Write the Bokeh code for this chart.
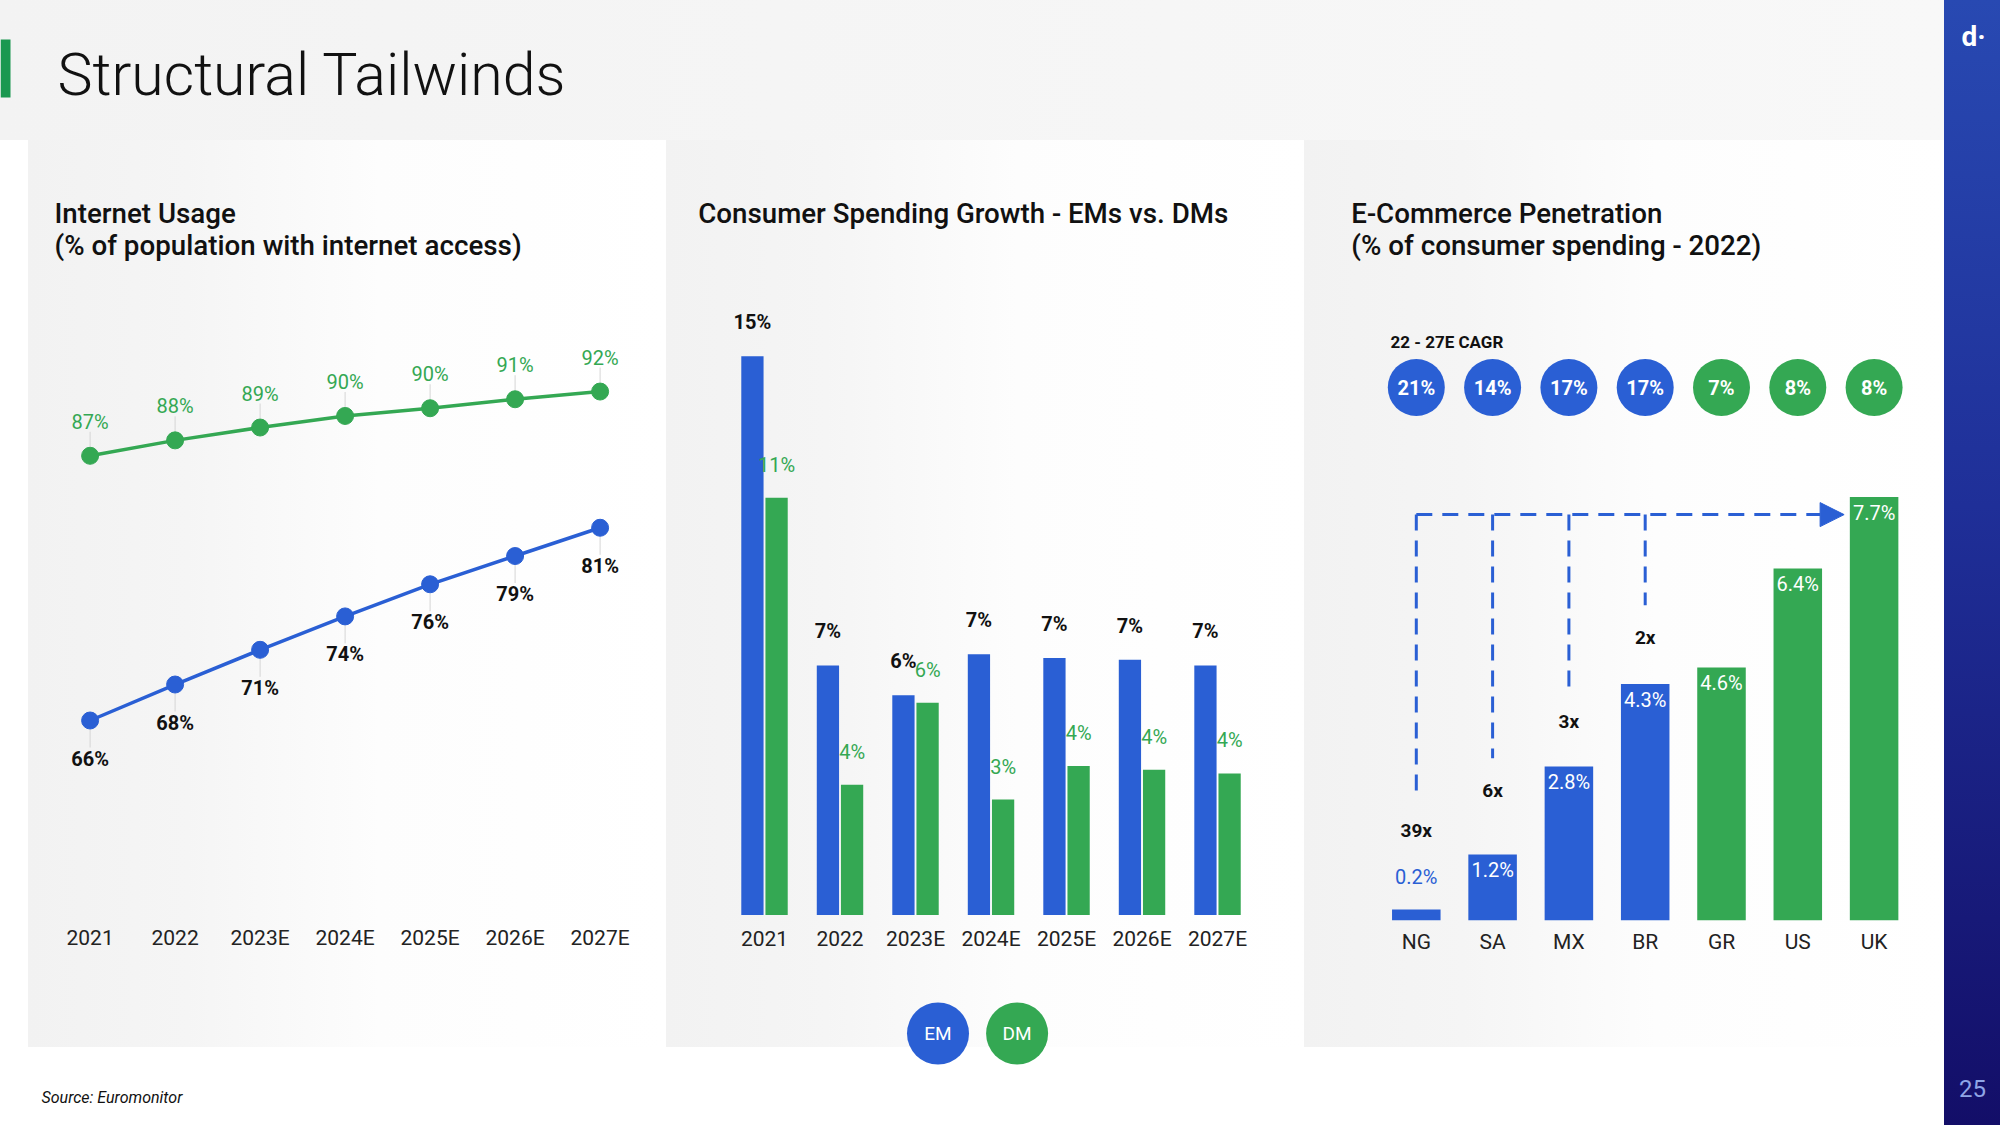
from bokeh.plotting import figure
from bokeh.layouts import row, column
from bokeh.models import (ColumnDataSource, Range1d, Arrow, NormalHead, FixedTicker)
from bokeh.core.properties import value
from bokeh.embed import file_html
from bokeh.resources import INLINE

# ---------------- data ----------------
years = ["2021", "2022", "2023E", "2024E", "2025E", "2026E", "2027E"]
internet_em = [66.0, 68.8, 71.5, 74.1, 76.6, 78.8, 81.0]
internet_dm = [86.6, 87.8, 88.8, 89.7, 90.3, 91.0, 91.6]
internet_em_labels = ["66%", "68%", "71%", "74%", "76%", "79%", "81%"]
internet_dm_labels = ["87%", "88%", "89%", "90%", "90%", "91%", "92%"]

spend_em = [15.0, 6.7, 5.9, 7.0, 6.9, 6.85, 6.7]
spend_dm = [11.2, 3.5, 5.7, 3.1, 4.0, 3.9, 3.8]
spend_em_labels = ["15%", "7%", "6%", "7%", "7%", "7%", "7%"]
spend_dm_labels = ["11%", "4%", "6%", "3%", "4%", "4%", "4%"]

countries = ["NG", "SA", "MX", "BR", "GR", "US", "UK"]
market_type = ["EM", "EM", "EM", "EM", "DM", "DM", "DM"]
ecom_pen = [0.2, 1.2, 2.8, 4.3, 4.6, 6.4, 7.7]
ecom_labels = ["0.2%", "1.2%", "2.8%", "4.3%", "4.6%", "6.4%", "7.7%"]
cagr_labels = ["21%", "14%", "17%", "17%", "7%", "8%", "8%"]
multiples = ["39x", "6x", "3x", "2x"]
legend_names = ["EM", "DM"]

# ---------------- style ----------------
BLUE = "#2a5fd4"
GREEN = "#34a853"
DARK = "#111111"
FONT = "Roboto"
HEAD_FONT = "Roboto Medium"
HEAD_SIZE = 27.7
GRAD = "linear-gradient(90deg, #f2f2f2 0%, #f5f5f5 25%, #fdfdfd 55%, #ffffff 100%)"
CH = 855          # chart figure height (page y 140..995)
FB = 920          # frame bottom (page y), shared by the three charts
MBB = 995 - FB


def panel_css(x0, w, h):
    return {"background-image": GRAD, "background-repeat": "no-repeat",
            "background-position": f"{x0}px 0px", "background-size": f"{w}px {h}px"}


def mkfig(w, h, xr, yr, mbb=0, xaxis=True, styles=None):
    p = figure(width=w, height=h, x_range=xr, y_range=yr, output_backend="svg",
               toolbar_location=None, title=None,
               x_axis_location="below" if xaxis else None, y_axis_location=None,
               min_border_left=0, min_border_right=0, min_border_top=0,
               min_border_bottom=mbb)
    p.background_fill_color = None
    p.border_fill_color = None
    p.outline_line_color = None
    p.grid.visible = False
    if xaxis:
        ax = p.xaxis[0]
        ax.axis_line_color = None
        ax.major_tick_line_color = None
        ax.minor_tick_line_color = None
        ax.major_tick_in = 0
        ax.major_tick_out = 0
        ax.major_label_text_font = FONT
        ax.major_label_text_font_size = "21px"
        ax.major_label_text_color = "#222222"
    if styles:
        p.styles = styles
    return p


def mapper(fx0, fx1, fy0, fy1, xr, yr):
    """page-pixel position -> data coordinates of a frame"""
    def f(px, py):
        x = xr[0] + (px - fx0) * (xr[1] - xr[0]) / (fx1 - fx0)
        y = yr[0] + (fy1 - py) * (yr[1] - yr[0]) / (fy1 - fy0)
        return x, y
    return f


def txt(p, src, x, y, t, size, color, style="normal", align="center", font=FONT):
    p.text(x=x, y=y, text=t, source=src, text_align=align, text_baseline="middle",
           text_font=value(font), text_font_size=f"{size}px", text_font_style=style,
           text_color=color)


def note(p, m, px, py, text, size, color=DARK, style="normal", align="left", font=FONT):
    x, y = m(px, py)
    txt(p, ColumnDataSource(dict(x=[x], y=[y], t=[text])), "x", "y", "t", size, color,
        style, align, font)


def set_ticks(p, labels, standoff):
    p.xaxis.ticker = FixedTicker(ticks=list(range(len(labels))))
    p.xaxis.major_label_overrides = {i: c for i, c in enumerate(labels)}
    p.xaxis.major_label_standoff = standoff


# ---------------- header ----------------
header = mkfig(1944, 140, Range1d(0, 1944), Range1d(140, 0), xaxis=False,
               styles={"background": "linear-gradient(90deg, #f3f3f3 0%, #f8f8f8 100%)"})
header.quad(left=[0], right=[10], top=[39], bottom=[97], fill_color="#1a9850", line_color=None)
note(header, lambda a, b: (a, b), 57, 74, "Structural Tailwinds", 59, font="Roboto Light")

# ---------------- left: internet usage ----------------
L_XR = (-1.0541, 6.7812)
L_YR = (66 - (FB - 720) / 12.85, 66 + (720 - 140) / 12.85)
left = mkfig(666, CH, Range1d(*L_XR), Range1d(*L_YR), mbb=MBB,
             styles=panel_css(28, 638, CH))
set_ticks(left, years, 5)
lm = mapper(0, 666, 140, FB, L_XR, L_YR)
ppu_l = (FB - 140) / (L_YR[1] - L_YR[0])
xi = list(range(len(years)))
lsrc = ColumnDataSource(dict(
    x=xi, em=internet_em, dm=internet_dm,
    em_lab=internet_em_labels, dm_lab=internet_dm_labels,
    dm_ly=[v + 34 / ppu_l for v in internet_dm],
    em_ly=[v - 38 / ppu_l for v in internet_em],
    dm_s0=[v + 9 / ppu_l for v in internet_dm],
    dm_s1=[v + 24 / ppu_l for v in internet_dm],
    em_s0=[v - 9 / ppu_l for v in internet_em],
    em_s1=[v - 27 / ppu_l for v in internet_em],
))
left.segment(x0="x", y0="dm_s0", x1="x", y1="dm_s1", source=lsrc, line_color="#d5d5d5", line_width=1)
left.segment(x0="x", y0="em_s0", x1="x", y1="em_s1", source=lsrc, line_color="#d5d5d5", line_width=1)
left.line("x", "dm", source=lsrc, line_color=GREEN, line_width=3.5)
left.line("x", "em", source=lsrc, line_color=BLUE, line_width=3.5)
left.scatter("x", "dm", source=lsrc, size=17, fill_color=GREEN, line_color=GREEN)
left.scatter("x", "em", source=lsrc, size=17, fill_color=BLUE, line_color=BLUE)
txt(left, lsrc, "x", "dm_ly", "dm_lab", 20, GREEN)
txt(left, lsrc, "x", "em_ly", "em_lab", 20, DARK, "bold")
note(left, lm, 54, 213, "Internet Usage", HEAD_SIZE, font=HEAD_FONT)
note(left, lm, 54, 245, "(% of population with internet access)", HEAD_SIZE, font=HEAD_FONT)

# ---------------- middle: consumer spending ----------------
M_XR = (-1.298, 7.152)
M_YR = (-(FB - 914.5) / 37.25, (914.5 - 140) / 37.25)
mid = mkfig(638, CH, Range1d(*M_XR), Range1d(*M_YR), mbb=MBB,
            styles=panel_css(0, 638, CH))
set_ticks(mid, years, 6)
mm = mapper(666, 1304, 140, FB, M_XR, M_YR)
ppu_m = (FB - 140) / (M_YR[1] - M_YR[0])
msrc = ColumnDataSource(dict(
    xe=[i - 0.16 for i in xi], xd=[i + 0.16 for i in xi],
    em=spend_em, dm=spend_dm, em_lab=spend_em_labels, dm_lab=spend_dm_labels,
    em_ly=[v + 34 / ppu_m for v in spend_em],
    dm_ly=[v + 33 / ppu_m for v in spend_dm],
))
mid.vbar(x="xe", top="em", bottom=0, width=0.295, source=msrc, fill_color=BLUE, line_color=None)
mid.vbar(x="xd", top="dm", bottom=0, width=0.295, source=msrc, fill_color=GREEN, line_color=None)
txt(mid, msrc, "xe", "em_ly", "em_lab", 20, DARK, "bold")
txt(mid, msrc, "xd", "dm_ly", "dm_lab", 20, GREEN)
note(mid, mm, 697.7, 213, "Consumer Spending Growth - EMs vs. DMs", HEAD_SIZE, font=HEAD_FONT)

# ---------------- right: e-commerce penetration ----------------
R_XR = (-1.4653, 6.9227)
R_YR = (0, (920 - 140) / 55.0)
right = mkfig(640, CH, Range1d(*R_XR), Range1d(*R_YR), mbb=MBB,
              styles=panel_css(0, 640, CH))
set_ticks(right, countries, 9)
rm = mapper(1304, 1944, 140, FB, R_XR, R_YR)
ppu_r = (FB - 140) / (R_YR[1] - R_YR[0])
idx = list(range(len(countries)))
colors = [BLUE if m == "EM" else GREEN for m in market_type]
cagr_row_y = rm(0, 387)[1]
rsrc = ColumnDataSource(dict(x=idx, pen=ecom_pen, lab=ecom_labels, cagr=cagr_labels,
                             color=colors, cagr_y=[cagr_row_y] * len(idx)))
right.vbar(x="x", top="pen", width=0.636, source=rsrc, fill_color="color", line_color=None)
inside = [i for i, v in enumerate(ecom_pen) if v >= 0.5]
outside = [i for i, v in enumerate(ecom_pen) if v < 0.5]
in_src = ColumnDataSource(dict(x=[idx[i] for i in inside],
                               y=[ecom_pen[i] - 15.5 / ppu_r for i in inside],
                               t=[ecom_labels[i] for i in inside]))
out_src = ColumnDataSource(dict(x=[idx[i] for i in outside],
                                y=[ecom_pen[i] + 33 / ppu_r for i in outside],
                                t=[ecom_labels[i] for i in outside]))
txt(right, in_src, "x", "y", "t", 20, "white")
txt(right, out_src, "x", "y", "t", 20, BLUE)
right.scatter("x", "cagr_y", source=rsrc, size=57, fill_color="color", line_color=None)
txt(right, rsrc, "x", "cagr_y", "cagr", 20, "white", "bold")
conn_x = idx[:4]
conn_bottom = [2.22, 2.95, 4.2, 5.73]
conn_top = 7.38
csrc = ColumnDataSource(dict(x=conn_x, y0=conn_bottom, y1=[conn_top] * 4, t=multiples,
                             ty=[b - 32 / ppu_r for b in conn_bottom]))
right.segment(x0="x", y0="y1", x1="x", y1="y0", source=csrc, line_color=BLUE,
              line_width=3, line_dash="16 10")
right.add_layout(Arrow(end=NormalHead(size=24, fill_color=BLUE, line_color=BLUE),
                       x_start=conn_x[0], y_start=conn_top, x_end=idx[-1] - 0.393, y_end=conn_top,
                       line_color=BLUE, line_width=3, line_dash="16 10"))
txt(right, csrc, "x", "ty", "t", 19, DARK, "bold")
note(right, rm, 1350.8, 213, "E-Commerce Penetration", HEAD_SIZE, font=HEAD_FONT)
note(right, rm, 1350.8, 245, "(% of consumer spending - 2022)", HEAD_SIZE, font=HEAD_FONT)
note(right, rm, 1390, 341.6, "22 - 27E CAGR", 17, style="bold")

# ---------------- footer (panel bottoms, legend, source) ----------------
FH = 130
fh_panel = 1047 - 995
footer = mkfig(1944, FH, Range1d(0, 1944), Range1d(1125, 995), xaxis=False, styles={
    "background-image": ", ".join([GRAD] * 3),
    "background-repeat": "no-repeat",
    "background-position": "28px 0px, 666px 0px, 1304px 0px",
    "background-size": f"638px {fh_panel}px, 638px {fh_panel}px, 640px {fh_panel}px",
})
fsrc = ColumnDataSource(dict(x=[937.5, 1016.6], y=[1033, 1033], t=legend_names,
                             c=[BLUE, GREEN]))
footer.scatter("x", "y", source=fsrc, size=62, fill_color="c", line_color=None)
txt(footer, fsrc, "x", "y", "t", 19, "white")
note(footer, lambda a, b: (a, b), 41, 1097, "Source: Euromonitor", 16, style="italic")

# ---------------- sidebar ----------------
side = mkfig(56, 1125, Range1d(1944, 2000), Range1d(1125, 0), xaxis=False,
             styles={"background": "linear-gradient(180deg, #2849b2 0%, #1f2f98 45%, #130e68 100%)"})
note(side, lambda a, b: (a, b), 1973, 36, "d·", 28, color="white", style="bold", align="center")
note(side, lambda a, b: (a, b), 1972, 1088, "25", 24, color="#8fa5e6", align="center")

layout = row(column(header, row(left, mid, right), footer), side)
open("out.html", "w").write(file_html(layout, INLINE))
